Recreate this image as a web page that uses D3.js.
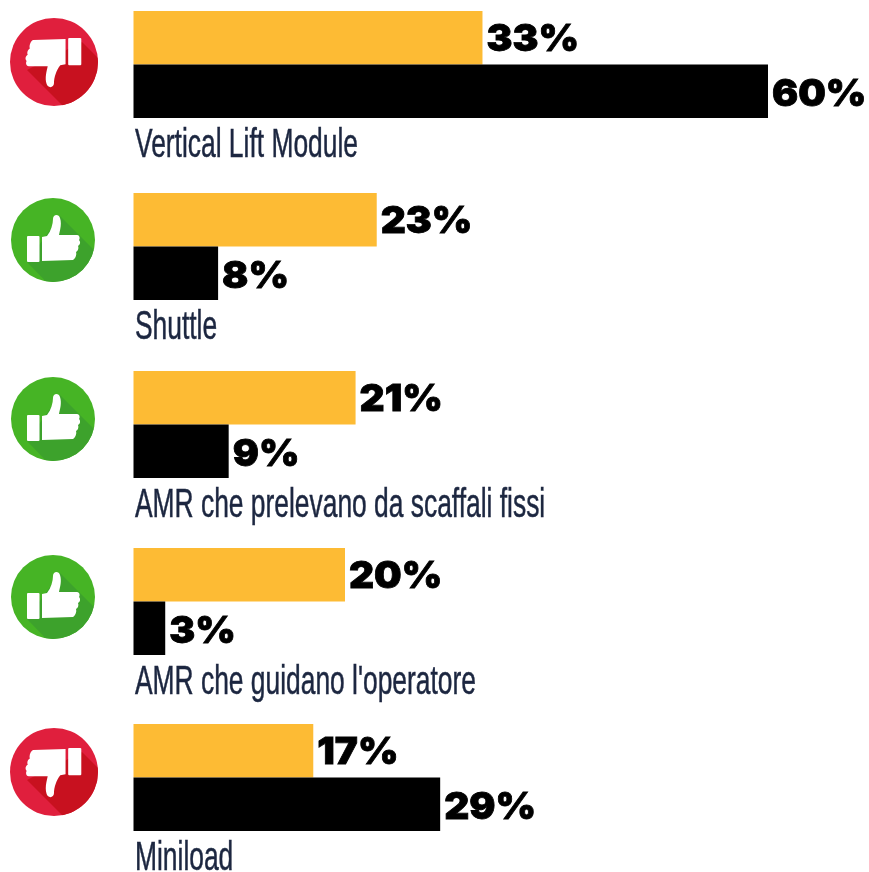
<!DOCTYPE html>
<html><head><meta charset="utf-8">
<script src="https://cdn.jsdelivr.net/npm/d3@7/dist/d3.min.js"></script>
<style>html,body{margin:0;padding:0;background:#fff;overflow:hidden}svg{display:block}</style>
</head><body><div id="chart"></div>
<script>
const categories = ["Vertical Lift Module","Shuttle","AMR che prelevano da scaffali fissi","AMR che guidano l'operatore","Miniload"];
const goldValues = [33,23,21,20,17];
const blackValues = [60,8,9,3,29];
const verdicts = ["down","up","up","up","down"];

const W=869,H=872;
const svg=d3.select("#chart").append("svg").attr("width",W).attr("height",H);
const defs=svg.append("defs");
defs.append("filter").attr("id","soft").attr("x","-5%").attr("y","-10%").attr("width","110%").attr("height","120%")
  .append("feGaussianBlur").attr("stdDeviation",0.55);

const x=d3.scaleLinear().domain([0,60]).range([133.5,768]);
const rowTop=d3.scaleOrdinal().domain(categories).range([11,193,371,548,724]);
const barH=53.5;
const iconX=[54,53,53,53,54], iconY=[62,240,419,597,772];
const iconPal={down:{r:44,base:"#e01f3d",dark:"#c8111f"},up:{r:42,base:"#46b425",dark:"#3da22c"}};

const handPath="M-11,-3 L-6,-4 C-2,-9 0,-16 0,-21 C0,-26 6,-26 7,-22 C9,-16 7,-10 6,-5 L24,-5 C27,-5 27,-1 26,0 C28,2 27,5 25,6 C26,8 25,11 23,12 C24,15 22,19 20,20 L-11,21 Z";

const rows=svg.selectAll("g.row").data(categories).join("g").attr("class","row");

rows.each(function(c,i){
  const g=d3.select(this), top=rowTop(c), v=verdicts[i], p=iconPal[v];
  const ic=g.append("g").attr("transform",`translate(${iconX[i]},${iconY[i]})`);
  const cid="clip"+i;
  defs.append("clipPath").attr("id",cid).append("circle").attr("r",p.r);
  ic.append("circle").attr("r",p.r).attr("fill",p.base);
  const shadow=v==="up"?"M7,-24 L80,49 L30,80 L-26,22 Z":"M28,-20 L90,42 L40,75 L-27,8 Z";
  ic.append("path").attr("d",shadow).attr("fill",p.dark).attr("clip-path",`url(#${cid})`);
  const art=ic.append("g").attr("fill","#fff")
    .attr("transform",v==="up"?null:"translate(0,-1) rotate(180) scale(1.05)");
  art.append("rect").attr("x",-26).attr("y",-4).attr("width",12.5).attr("height",26).attr("rx",1);
  art.append("path").attr("d",handPath);

  g.append("rect").attr("x",x(0)).attr("y",top).attr("width",x(goldValues[i])-x(0)).attr("height",barH).attr("fill","#fdbb34");
  g.append("rect").attr("x",x(0)).attr("y",top+barH).attr("width",x(blackValues[i])-x(0)).attr("height",barH).attr("fill","#000");

  const val=(value,yy)=>{
    const tx=x(value)+4;
    g.append("text").attr("transform",`translate(${tx},${yy}) scale(1.05,1)`)
      .attr("font-family","Inter").attr("font-weight",900).attr("font-size",37)
      .attr("fill","#000").attr("stroke","#000").attr("stroke-width",0.8)
      .attr("filter","url(#soft)").text(value+"%");
  };
  val(goldValues[i],top+40);
  val(blackValues[i],top+barH+41);

  g.append("text").attr("transform",`translate(135,${top+146}) scale(0.66,1)`)
    .attr("font-family","Liberation Sans").attr("font-size",40)
    .attr("fill","#1c2740").attr("stroke","#1c2740").attr("stroke-width",0.5)
    .attr("filter","url(#soft)").text(c);
});
</script></body></html>
